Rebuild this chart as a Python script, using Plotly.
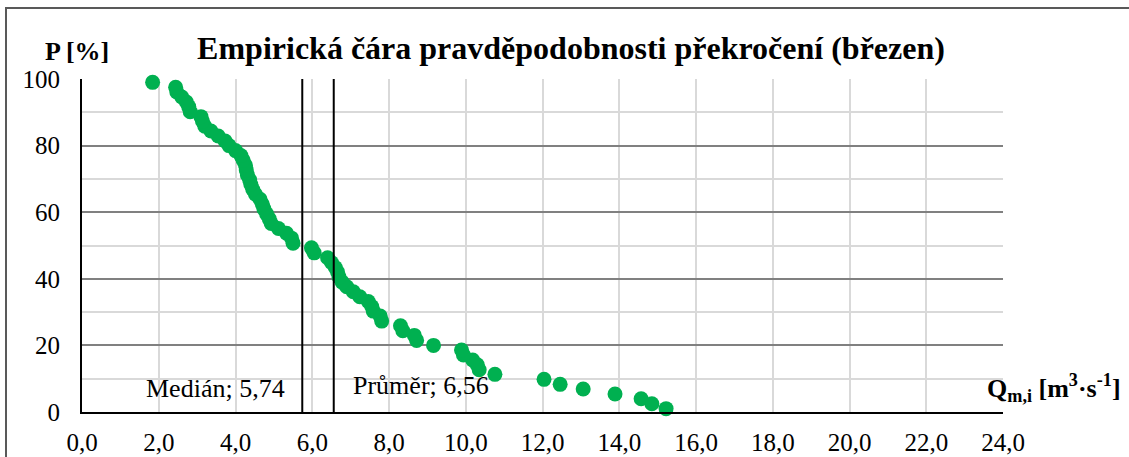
import plotly.graph_objects as go

# ------------------------------------------------------------------
# Data read from the chart (March, empirical exceedance curve)
# ------------------------------------------------------------------
Q_VALUES = [
    15.22, 14.85, 14.57, 13.89, 13.06, 12.46, 12.04, 10.76, 10.35, 10.30,
    10.18, 9.94, 9.89, 9.16, 8.72, 8.66, 8.36, 8.30, 7.81, 7.77,
    7.59, 7.55, 7.46, 7.24, 7.07, 6.90, 6.78, 6.70, 6.66, 6.60,
    6.50, 6.40, 6.05, 5.98, 5.50, 5.46, 5.33, 5.12, 4.93, 4.88,
    4.81, 4.74, 4.70, 4.64, 4.52, 4.45, 4.40, 4.37, 4.31, 4.28,
    4.26, 4.20, 4.14, 4.00, 3.83, 3.73, 3.55, 3.36, 3.20, 3.14,
    3.10, 2.82, 2.78, 2.72, 2.60, 2.47, 2.44, 1.84,
]
P_VALUES = [
    1.0, 2.5, 4.0, 5.4, 6.9, 8.3, 9.8, 11.3, 12.7, 14.2,
    15.6, 17.1, 18.6, 20.0, 21.5, 23.0, 24.4, 25.9, 27.3, 28.8,
    30.3, 31.7, 33.2, 34.6, 36.1, 37.6, 39.0, 40.5, 42.0, 43.4,
    44.9, 46.3, 47.8, 49.3, 50.7, 52.2, 53.7, 55.1, 56.6, 58.0,
    59.5, 61.0, 62.4, 63.9, 65.4, 66.8, 68.3, 69.7, 71.2, 72.7,
    74.1, 75.6, 77.0, 78.5, 80.0, 81.4, 82.9, 84.4, 85.8, 87.3,
    88.7, 90.2, 91.7, 93.1, 94.6, 96.1, 97.5, 99.0,
]
MEDIAN = 5.74
MEAN = 6.56
X_TICKS = [0, 2, 4, 6, 8, 10, 12, 14, 16, 18, 20, 22, 24]
Y_TICKS = [0, 20, 40, 60, 80, 100]

FONT = "Liberation Serif, Times New Roman, serif"

fig = go.Figure()

fig.add_trace(
    go.Scatter(
        x=Q_VALUES,
        y=P_VALUES,
        mode="markers",
        marker=dict(color="#00b050", size=15),
        showlegend=False,
        cliponaxis=False,
    )
)

# median / mean vertical lines
for val in (MEDIAN, MEAN):
    fig.add_trace(
        go.Scatter(
            x=[val, val],
            y=[0, 100],
            mode="lines",
            line=dict(color="black", width=2),
            showlegend=False,
            hoverinfo="skip",
        )
    )

fig.add_annotation(
    x=MEDIAN, y=7, text="Medián; 5,74", showarrow=False,
    xanchor="right", yanchor="middle", xshift=-15,
    font=dict(family=FONT, size=26, color="black"),
)
fig.add_annotation(
    x=MEAN, y=8, text="Průměr; 6,56", showarrow=False,
    xanchor="left", yanchor="middle", xshift=17,
    font=dict(family=FONT, size=26, color="black"),
)

# axis titles placed like the original
fig.add_annotation(
    xref="paper", yref="paper", x=(77 - 82) / 921, y=(412 - 52) / 333,
    text="<b>P [%]</b>", showarrow=False,
    xanchor="center", yanchor="middle",
    font=dict(family=FONT, size=26, color="black"),
)
fig.add_annotation(
    xref="paper", yref="paper", x=(1123 - 82) / 921, y=(412 - 388) / 333,
    text="<b>Q<sub>m,i</sub> [m<sup>3</sup>·s<sup>-1</sup>]</b>", showarrow=False,
    xanchor="right", yanchor="middle",
    font=dict(family=FONT, size=26, color="black"),
)

# outer chart frame (runs past the right and bottom edges)
fig.add_shape(
    type="rect", xref="paper", yref="paper",
    x0=(6 - 82) / 921, x1=1.16, y0=-0.3, y1=(412 - 8) / 333,
    line=dict(color="#595959", width=2), layer="below",
)

fig.update_layout(
    width=1129,
    height=457,
    margin=dict(l=82, r=126, t=79, b=45),
    paper_bgcolor="white",
    plot_bgcolor="white",
    separators=", ",
    title=dict(
        text="<b>Empirická čára pravděpodobnosti překročení (březen)</b>",
        x=571 / 1129, xanchor="center",
        y=1 - 48 / 457, yanchor="middle",
        font=dict(family=FONT, size=32, color="black"),
    ),
    font=dict(family=FONT, size=25, color="black"),
)

fig.update_xaxes(
    range=[0, 24],
    tickvals=X_TICKS,
    tickformat=".1f",
    showgrid=True,
    gridcolor="#d9d9d9",
    gridwidth=2,
    zeroline=False,
    showline=True,
    linecolor="black",
    linewidth=2,
    ticks="",
    ticklabelstandoff=7,
    tickfont=dict(family=FONT, size=25),
    automargin=False,
)
fig.update_yaxes(
    range=[0, 100],
    tickvals=Y_TICKS,
    showgrid=True,
    gridcolor="#808080",
    gridwidth=2,
    minor=dict(dtick=10, showgrid=True, gridcolor="#d9d9d9", gridwidth=2),
    zeroline=False,
    showline=True,
    linecolor="black",
    linewidth=2,
    ticks="",
    ticklabelstandoff=15,
    tickfont=dict(family=FONT, size=25),
    automargin=False,
)

fig.write_html(
    "out.html",
    config={"displayModeBar": False},
    post_script="document.body.style.margin='0';",
)
